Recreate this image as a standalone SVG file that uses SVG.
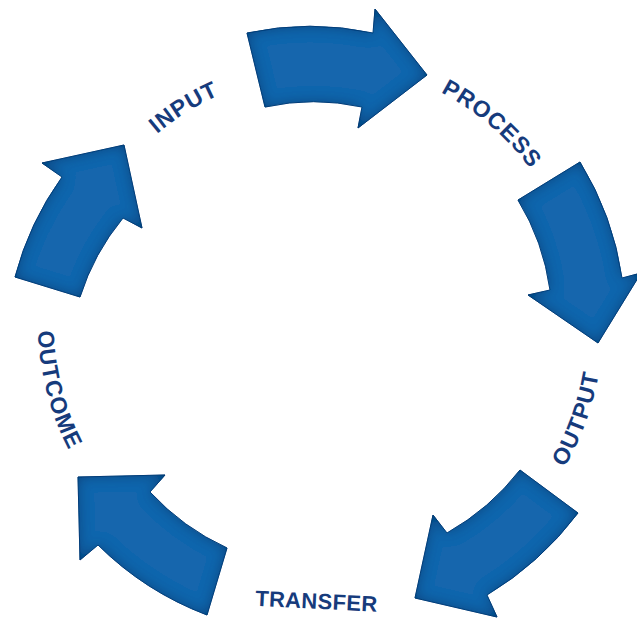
<svg xmlns="http://www.w3.org/2000/svg" xmlns:xlink="http://www.w3.org/1999/xlink" width="637" height="619" viewBox="0 0 637 619">
  <defs>
    <filter id="inner" x="-10%" y="-10%" width="120%" height="120%">
      <feGaussianBlur in="SourceAlpha" stdDeviation="7" result="b"/>
      <feComposite in="SourceAlpha" in2="b" operator="out" result="edge"/>
      <feFlood flood-color="#06346a" flood-opacity="0.85"/>
      <feComposite in2="edge" operator="in" result="shadow"/>
      <feMerge>
        <feMergeNode in="SourceGraphic"/>
        <feMergeNode in="shadow"/>
      </feMerge>
    </filter>
    <path id="pInput" d="M 81.3,247.4 A 251 251 0 0 1 354.9,76.4"/>
    <path id="pProcess" d="M 322.3,63 A 262 262 0 0 1 578.4,281.8"/>
    <path id="pOutput" d="M 461.5,570.1 A 283 283 0 0 0 585.9,228.2"/>
    <path id="pTransfer" d="M 230,604.5 L 402,613"/>
    <path id="pOutcome" d="M 66,200 A 280 280 0 0 0 157.2,551.6"/>
  </defs>
  <style>
    .arrow { fill: #1666ad; stroke: #0c4482; stroke-width: 1; filter: url(#inner); }
    .label { font-family: "Liberation Sans", Arial, sans-serif; font-weight: bold; font-size: 23px; letter-spacing: 1px; fill: #163b7c; }
    .small { font-size: 22px; letter-spacing: 0.3px; }
  </style>
  <rect width="637" height="619" fill="#ffffff"/>
  <g id="connectors">
    <path id="arrow-input-process" class="arrow" d="M 247,33 A 300 300 0 0 1 373,33 L 375,9 L 427,75 L 358,128 L 362,107 A 225 225 0 0 0 265,107 Z"/>
    <path id="arrow-process-output" class="arrow" d="M 580,162 A 305 305 0 0 1 622,278 L 641,273 L 598,343 L 528,295 L 550,290 A 233 233 0 0 0 518,200 Z"/>
    <path id="arrow-output-transfer" class="arrow" d="M 520,470 L 578,513 A 318 318 0 0 1 487,595 L 497,617 L 415,598 L 433,515 L 447,533 A 245 245 0 0 0 520,470 Z"/>
    <path id="arrow-transfer-outcome" class="arrow" d="M 227,548 L 207,615 A 312 312 0 0 1 98,545 L 80,560 L 78,477 L 165,475 L 150,492 A 240 240 0 0 0 227,548 Z"/>
    <path id="arrow-outcome-input" class="arrow" d="M 80,297 L 15,277 A 305 305 0 0 1 62,177 L 42,163 L 124,145 L 142,228 L 123,218 A 235 235 0 0 0 80,297 Z"/>
  </g>
  <g id="node-input">
    <text class="label"><textPath href="#pInput" xlink:href="#pInput" startOffset="50%" text-anchor="middle">INPUT</textPath></text>
  </g>
  <g id="node-process">
    <text class="label"><textPath href="#pProcess" xlink:href="#pProcess" startOffset="50%" text-anchor="middle">PROCESS</textPath></text>
  </g>
  <g id="node-output">
    <text class="label"><textPath href="#pOutput" xlink:href="#pOutput" startOffset="50%" text-anchor="middle">OUTPUT</textPath></text>
  </g>
  <g id="node-transfer">
    <text class="label small"><textPath href="#pTransfer" xlink:href="#pTransfer" startOffset="50%" text-anchor="middle">TRANSFER</textPath></text>
  </g>
  <g id="node-outcome">
    <text class="label"><textPath href="#pOutcome" xlink:href="#pOutcome" startOffset="50%" text-anchor="middle">OUTCOME</textPath></text>
  </g>
</svg>
